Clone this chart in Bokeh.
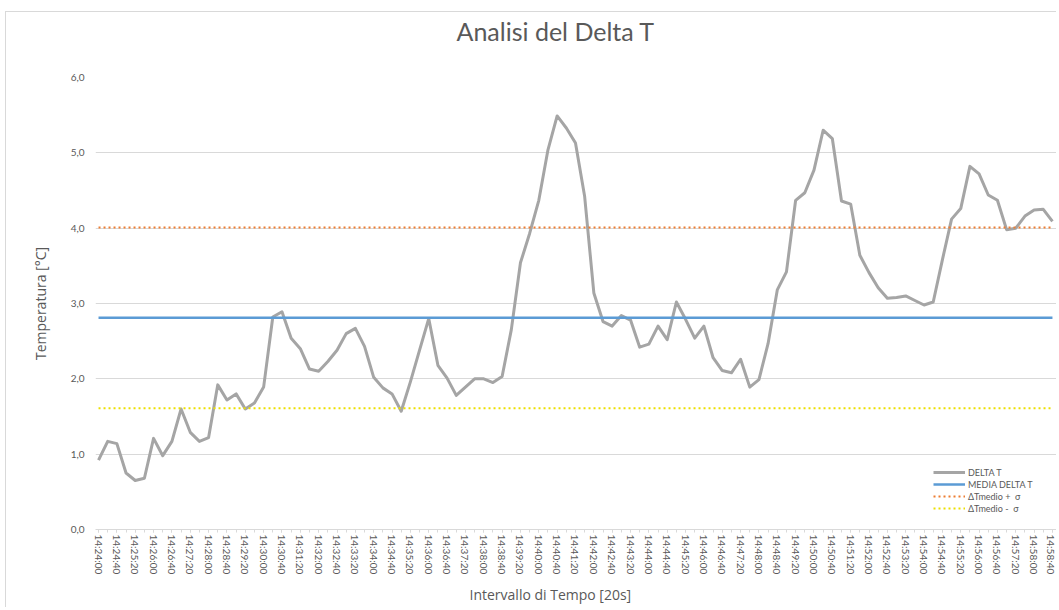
from bokeh.plotting import figure
from bokeh.models import FixedTicker, Range1d, Legend, LegendItem, Title
from bokeh.embed import file_html
from bokeh.resources import INLINE

# ---- data ----
tempi = [f"14:{24 + (20 * i) // 60:02d}:{(20 * i) % 60:02d}" for i in range(105)]

delta_t = [
    0.92, 1.17, 1.14, 0.75, 0.65, 0.68, 1.21, 0.98, 1.17, 1.60,
    1.29, 1.17, 1.22, 1.92, 1.72, 1.80, 1.60, 1.68, 1.89, 2.82,
    2.89, 2.54, 2.40, 2.13, 2.10, 2.23, 2.38, 2.60, 2.67, 2.43,
    2.02, 1.88, 1.80, 1.57, 1.96, 2.38, 2.80, 2.18, 2.01, 1.78,
    1.89, 2.00, 2.00, 1.95, 2.03, 2.65, 3.54, 3.93, 4.37, 5.04,
    5.49, 5.33, 5.13, 4.42, 3.14, 2.76, 2.70, 2.84, 2.78, 2.42,
    2.46, 2.70, 2.52, 3.02, 2.79, 2.54, 2.70, 2.28, 2.11, 2.08,
    2.26, 1.89, 1.99, 2.47, 3.18, 3.42, 4.37, 4.47, 4.77, 5.30,
    5.19, 4.36, 4.32, 3.64, 3.41, 3.21, 3.07, 3.08, 3.10, 3.04,
    2.98, 3.02, 3.58, 4.12, 4.26, 4.82, 4.72, 4.44, 4.37, 3.98,
    4.00, 4.16, 4.24, 4.25, 4.09,
]
media_delta_t = 2.81
media_piu_sigma = 4.01
media_meno_sigma = 1.61

y_ticks = [0, 1, 2, 3, 4, 5, 6]
y_tick_labels = ["0,0", "1,0", "2,0", "3,0", "4,0", "5,0", "6,0"]

serie_nomi = ["DELTA T", "MEDIA DELTA T", "\u0394Tmedio +  \u03c3", "\u0394Tmedio -  \u03c3"]

# ---- figure ----
FONT = "Lato"
AXFONT = "Open Sans"
TXT = "#595959"
GRID = "#d9d9d9"

idx = list(range(len(tempi)))

p = figure(
    width=1051, height=596,
    output_backend="svg", toolbar_location=None,
    x_range=Range1d(-0.33, 104.55), y_range=Range1d(0, 6),
    min_border_left=89, min_border_right=0, min_border_top=65, min_border_bottom=78,
    background_fill_color="white", border_fill_color="white",
)
p.margin = (11, 0, 0, 5)
p.outline_line_color = None
p.styles = {"border-top": "1px solid #d9d9d9", "border-left": "1px solid #d9d9d9"}

l1 = p.line(idx, delta_t, line_color="#a5a5a5", line_width=3, line_join="round")
l2 = p.line(idx, [media_delta_t] * len(idx), line_color="#5b9bd5", line_width=2.5)
l3 = p.line(idx, [media_piu_sigma] * len(idx), line_color="#ed7d31", line_width=2, line_dash="2 3")
l4 = p.line(idx, [media_meno_sigma] * len(idx), line_color="#ece000", line_width=2, line_dash="2 3")

# y axis
yt = FixedTicker(ticks=y_ticks)
p.yaxis.ticker = yt
p.yaxis.major_label_overrides = {t: s for t, s in zip(y_ticks, y_tick_labels)}
p.yaxis.axis_line_color = None
p.yaxis.major_tick_line_color = None
p.yaxis.minor_tick_line_color = None
p.yaxis.major_label_text_font = FONT
p.yaxis.major_label_text_font_size = "10px"
p.yaxis.major_label_text_color = TXT
p.yaxis.major_label_standoff = 5
p.yaxis.axis_label = "Temperatura [°C]"
p.yaxis.axis_label_text_font = AXFONT
p.yaxis.axis_label_text_font_size = "14px"
p.yaxis.axis_label_text_font_style = "normal"
p.yaxis.axis_label_text_color = TXT
p.yaxis.axis_label_standoff = 18
p.ygrid.ticker = yt
p.ygrid.grid_line_color = GRID
p.xgrid.visible = False

# x axis
major = idx[::2]
p.xaxis.ticker = FixedTicker(ticks=major, minor_ticks=idx)
p.xaxis.major_label_overrides = {i: tempi[i] for i in major}
p.xaxis.major_label_orientation = "vertical"
p.xaxis.axis_line_color = GRID
p.xaxis.major_tick_line_color = GRID
p.xaxis.minor_tick_line_color = GRID
p.xaxis.major_tick_out = 3
p.xaxis.major_tick_in = 0
p.xaxis.minor_tick_out = 3
p.xaxis.minor_tick_in = 0
p.xaxis.major_label_standoff = 2
p.xaxis.major_label_text_font = FONT
p.xaxis.major_label_text_font_size = "10px"
p.xaxis.major_label_text_color = TXT

# titles (chart title and x-axis title, centred on the chart area)
p.add_layout(Title(text="Analisi del Delta T\n\u00a0", align="left", offset=361, standoff=0,
                   vertical_align="top",
                   text_font=FONT, text_font_size="25px", text_font_style="normal",
                   text_color=TXT), "above")
p.add_layout(Title(text="Intervallo di Tempo [20s]", align="left", offset=374, standoff=10,
                   text_font=AXFONT, text_font_size="14px", text_font_style="normal",
                   text_color=TXT), "below")

# legend
legend = Legend(
    items=[LegendItem(label=n, renderers=[r]) for n, r in zip(serie_nomi, [l1, l2, l3, l4])],
    location=(838, 15),
    label_text_font=FONT, label_text_font_size="9px", label_text_color=TXT,
    glyph_width=32, glyph_height=12, label_height=12, label_standoff=3,
    spacing=0, padding=0, margin=0,
    border_line_color=None, background_fill_alpha=0,
)
p.add_layout(legend)

open("out.html", "w").write(file_html(p, INLINE))
